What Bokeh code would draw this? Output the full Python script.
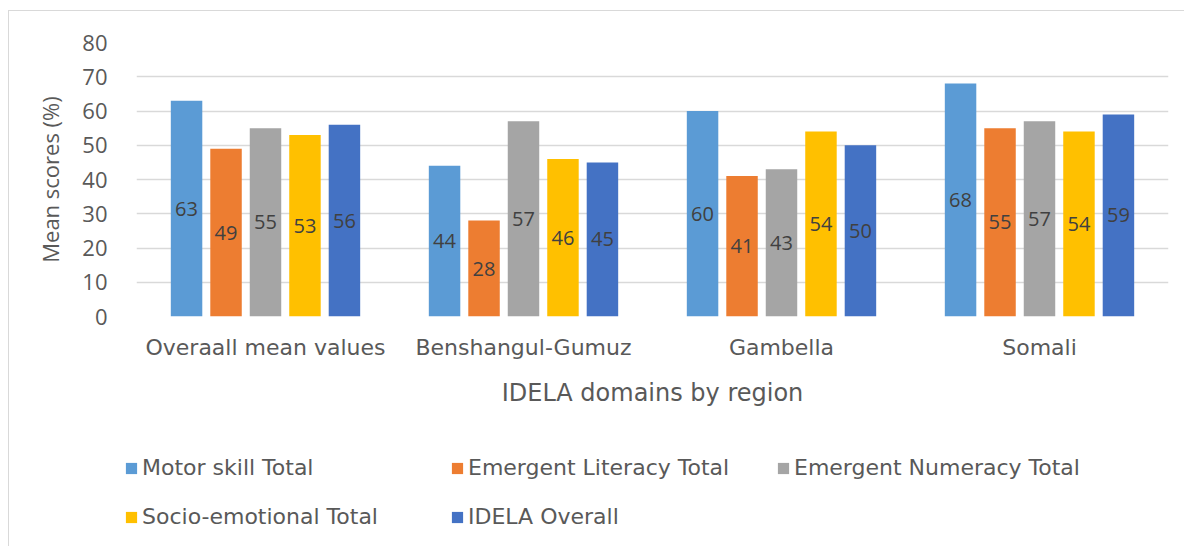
from bokeh.plotting import figure
from bokeh.models import (FactorRange, Range1d, ColumnDataSource, Legend, LegendItem,
                          FixedTicker)
from bokeh.transform import dodge
from bokeh.core.properties import value
from bokeh.embed import file_html
from bokeh.resources import INLINE

# ---- data ----
regions = ["Overaall mean values", "Benshangul-Gumuz", "Gambella", "Somali"]
series_names = ["Motor skill Total", "Emergent Literacy Total", "Emergent Numeracy Total",
                "Socio-emotional Total", "IDELA Overall"]
motor = [63, 44, 60, 68]
literacy = [49, 28, 41, 55]
numeracy = [55, 57, 43, 57]
socio = [53, 46, 54, 54]
idela = [56, 45, 50, 59]
y_ticks = [0, 10, 20, 30, 40, 50, 60, 70, 80]

colors = ["#5B9BD5", "#ED7D31", "#A5A5A5", "#FFC000", "#4472C4"]
offsets = [-0.306, -0.153, 0.0, 0.153, 0.306]
series = [motor, literacy, numeracy, socio, idela]

src = {"region": regions}
keys = ["motor", "literacy", "numeracy", "socio", "idela"]
for k, s in zip(keys, series):
    src[k] = s
    src[k + "_mid"] = [v / 2 for v in s]
    src[k + "_lbl"] = [str(v) for v in s]
source = ColumnDataSource(src)

p = figure(x_range=FactorRange(*regions), y_range=Range1d(0, 80),
           width=1176, height=428, output_backend="svg", toolbar_location=None,
           min_border_left=127, min_border_right=17, min_border_top=31,
           min_border_bottom=123)
p.outline_line_color = None
p.background_fill_color = "white"
p.border_fill_color = "white"

renderers = []
for k, col, off in zip(keys, colors, offsets):
    r = p.vbar(x=dodge("region", off, range=p.x_range), top=k, width=0.122,
               source=source, fill_color=col, line_color=None)
    renderers.append(r)
    p.text(x=dodge("region", off, range=p.x_range), y=k + "_mid", text=k + "_lbl",
           source=source, text_align="center", text_baseline="middle",
           text_font=value("Open Sans"), text_font_size="20px", text_color="#404040")

# axes
p.yaxis.ticker = FixedTicker(ticks=y_ticks)
p.yaxis.axis_line_color = None
p.yaxis.major_tick_line_color = None
p.yaxis.minor_tick_line_color = None
p.yaxis.major_label_standoff = 23
p.yaxis.major_label_text_font = "Open Sans"
p.yaxis.major_label_text_font_size = "22px"
p.yaxis.major_label_text_color = "#595959"
p.yaxis.axis_label = "Mean scores (%)"
p.yaxis.axis_label_text_font = "Open Sans"
p.yaxis.axis_label_text_font_size = "22px"
p.yaxis.axis_label_text_font_style = "normal"
p.yaxis.axis_label_text_color = "#595959"
p.yaxis.axis_label_standoff = 14

p.xaxis.axis_line_color = None
p.xaxis.major_tick_line_color = None
p.xaxis.minor_tick_line_color = None
p.xaxis.major_label_standoff = 12
p.xaxis.major_label_text_font = "DejaVu Sans"
p.xaxis.major_label_text_font_size = "22px"
p.xaxis.major_label_text_color = "#595959"
p.xaxis.axis_label = "IDELA domains by region"
p.xaxis.axis_label_text_font = "DejaVu Sans"
p.xaxis.axis_label_text_font_size = "24px"
p.xaxis.axis_label_text_font_style = "normal"
p.xaxis.axis_label_text_color = "#595959"
p.xaxis.axis_label_standoff = 16

p.xgrid.grid_line_color = None
p.ygrid.grid_line_color = "#d9d9d9"
p.ygrid.grid_line_width = 1.5

# legend panel (separate root below the chart)
p2 = figure(width=1176, height=108, output_backend="svg", toolbar_location=None,
            x_range=Range1d(0, 1), y_range=Range1d(0, 1),
            x_axis_type=None, y_axis_type=None,
            min_border_left=0, min_border_right=0, min_border_top=0, min_border_bottom=0)
p2.outline_line_color = None
p2.xgrid.grid_line_color = None
p2.ygrid.grid_line_color = None
p2.background_fill_color = "white"
p2.border_fill_color = "white"

legend_renderers = [p2.vbar(x=[-1], top=[0], bottom=[0], width=0.1,
                            fill_color=c, line_color=None) for c in colors]

def make_legend(idxs, y):
    items = [LegendItem(label=series_names[i], renderers=[legend_renderers[i]]) for i in idxs]
    return Legend(items=items, orientation="horizontal", location=(115, y),
                  glyph_width=14, glyph_height=14, label_height=14, label_width=308,
                  label_standoff=4, spacing=0, padding=0, margin=0,
                  border_line_color=None, background_fill_alpha=0,
                  label_text_font="DejaVu Sans", label_text_font_size="22px",
                  label_text_color="#595959")

p2.add_layout(make_legend([0, 1, 2], 66))
p2.add_layout(make_legend([3, 4], 17))

p.styles = {"margin-left": "8px", "margin-top": "10px",
            "border-top": "1.5px solid #d9d9d9", "border-left": "1.5px solid #d9d9d9"}
p2.styles = {"margin-left": "8px", "border-left": "1.5px solid #d9d9d9"}

open("out.html", "w").write(file_html([p, p2], INLINE))
